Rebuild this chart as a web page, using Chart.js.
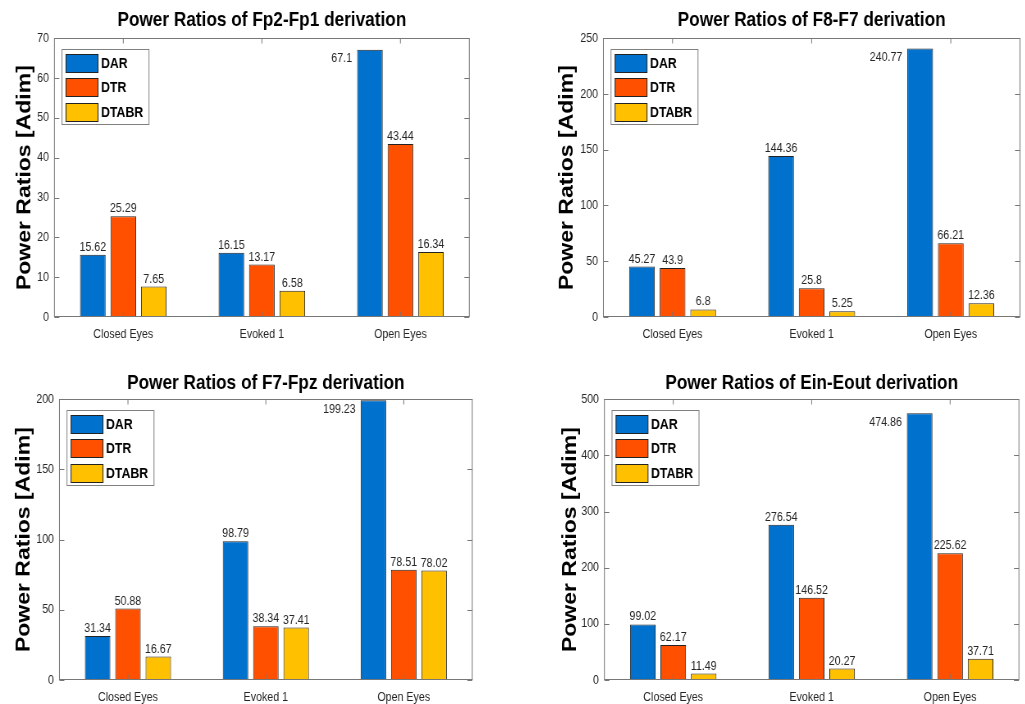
<!DOCTYPE html>
<html>
<head>
<meta charset="utf-8">
<script src="https://cdn.jsdelivr.net/npm/chart.js@4"></script>
<style>
html, body { margin: 0; padding: 0; background: #fff; }
#wrap { position: relative; width: 1025px; height: 704px; overflow: hidden; }
/* the source figure is squeezed horizontally, so each chart is drawn wider and scaled down */
.panel { position: absolute; height: 352px; transform: scaleX(0.82); transform-origin: 0 0; }
.left { width: 624px; }
.right { width: 626px; }
</style>
</head>
<body>
<div id="wrap">
  <div class="panel left" style="left:0;top:0"><canvas id="chartFp2Fp1"></canvas></div>
  <div class="panel right" style="left:512px;top:0"><canvas id="chartF8F7"></canvas></div>
  <div class="panel left" style="left:0;top:352px"><canvas id="chartF7Fpz"></canvas></div>
  <div class="panel right" style="left:512px;top:352px"><canvas id="chartEinEout"></canvas></div>
</div>
<script>
const categories = ['Closed Eyes', 'Evoked 1', 'Open Eyes'];
const seriesNames = ['DAR', 'DTR', 'DTABR'];
const seriesColors = ['#0072CE', '#FF5000', '#FFC000'];

const fp2fp1Dar = [15.62, 16.15, 67.1];
const fp2fp1Dtr = [25.29, 13.17, 43.44];
const fp2fp1Dtabr = [7.65, 6.58, 16.34];

const f8f7Dar = [45.27, 144.36, 240.77];
const f8f7Dtr = [43.9, 25.8, 66.21];
const f8f7Dtabr = [6.8, 5.25, 12.36];

const f7fpzDar = [31.34, 98.79, 199.23];
const f7fpzDtr = [50.88, 38.34, 78.51];
const f7fpzDtabr = [16.67, 37.41, 78.02];

const eineoutDar = [99.02, 276.54, 474.86];
const eineoutDtr = [62.17, 146.52, 225.62];
const eineoutDtabr = [11.49, 20.27, 37.71];

const SQ = 0.82; // horizontal squeeze applied by css
const sans = "'Liberation Sans', Arial, sans-serif";
Chart.defaults.font.family = sans;
Chart.defaults.color = '#262626';

// matlab look: box, inward ticks, value labels and legend inside the axes
const matlabAxes = {
    id: 'matlabAxes',
    afterDatasetsDraw(chart) {
        const {ctx, chartArea: a, scales: {x, y}} = chart;
        ctx.save();
        ctx.font = `13px ${sans}`;
        ctx.fillStyle = '#262626';
        chart.data.datasets.forEach((ds, i) => {
            chart.getDatasetMeta(i).data.forEach((bar, j) => {
                const v = ds.data[j];
                if (v / y.max > 0.9) {
                    ctx.textAlign = 'right';
                    ctx.textBaseline = 'middle';
                    ctx.fillText(String(v), bar.x - bar.width / 2 - 5 / SQ, bar.y + 9);
                } else {
                    ctx.textAlign = 'center';
                    ctx.textBaseline = 'bottom';
                    ctx.fillText(String(v), bar.x, bar.y - 1);
                }
            });
        });

        const L = a.left + 0.5, R = a.right - 0.5;
        const T = Math.round(a.top) + 0.5, B = Math.round(a.bottom) - 0.5;
        ctx.strokeStyle = '#777';
        ctx.lineWidth = 1;
        ctx.strokeRect(L, T, R - L, B - T);
        ctx.beginPath();
        y.ticks.forEach(t => {
            const py = Math.round(y.getPixelForValue(t.value)) + 0.5;
            ctx.moveTo(L, py); ctx.lineTo(L + 6, py);
            ctx.moveTo(R, py); ctx.lineTo(R - 6, py);
        });
        x.ticks.forEach((t, k) => {
            const px = x.getPixelForTick(k);
            ctx.moveTo(px, B); ctx.lineTo(px, B - 5);
            ctx.moveTo(px, T); ctx.lineTo(px, T + 5);
        });
        ctx.stroke();

        // legend box
        const lx = a.left + 8 / SQ, ly = Math.round(a.top) + 11.5;
        const bw = 87 / SQ;
        ctx.fillStyle = '#fff';
        ctx.fillRect(lx, ly, bw, 75);
        ctx.strokeStyle = '#808080';
        ctx.strokeRect(lx, ly, bw, 75);
        ctx.font = `bold 15px ${sans}`;
        ctx.textAlign = 'left';
        ctx.textBaseline = 'middle';
        chart.data.datasets.forEach((ds, i) => {
            const sy = Math.round(ly + 4 + i * 24.5) + 0.5;
            ctx.fillStyle = ds.backgroundColor;
            ctx.fillRect(lx + 4 / SQ, sy, 32 / SQ, 18);
            ctx.strokeStyle = '#222';
            ctx.strokeRect(lx + 4 / SQ, sy, 32 / SQ, 18);
            ctx.fillStyle = '#000';
            ctx.fillText(ds.label, lx + 39 / SQ, sy + 9.5);
        });
        ctx.restore();
    }
};

const createPanel = (ctxId, title, dar, dtr, dtabr, yMax, yStep, box) => {
    const values = [dar, dtr, dtabr];
    return new Chart(document.getElementById(ctxId), {
        type: 'bar',
        data: {
            labels: categories,
            datasets: seriesNames.map((name, i) => ({
                label: name,
                data: values[i],
                backgroundColor: seriesColors[i],
                borderColor: '#222',
                borderWidth: 1,
                categoryPercentage: 0.66,
                barPercentage: 0.84,
            }))
        },
        options: {
            responsive: true,
            maintainAspectRatio: false,
            animation: false,
            layout: {
                padding: {left: box.padL / SQ, right: box.padR / SQ, top: box.padT, bottom: 0}
            },
            scales: {
                x: {
                    offset: true,
                    grid: {display: false, drawTicks: false},
                    border: {display: false},
                    ticks: {font: {size: 13}, padding: 10, color: '#262626'},
                    afterFit: (scale) => { scale.height = box.xHeight; }
                },
                y: {
                    min: 0,
                    max: yMax,
                    grid: {display: false, drawTicks: false},
                    border: {display: false},
                    ticks: {stepSize: yStep, font: {size: 13}, padding: 5 / SQ, color: '#262626'},
                    title: {
                        display: true,
                        text: 'Power Ratios [Adim]',
                        color: '#000',
                        padding: 0,
                        font: {size: 23, weight: 'bold', lineHeight: 1}
                    },
                    afterFit: (scale) => { scale.width = box.yWidth / SQ; }
                }
            },
            plugins: {
                legend: {display: false},
                tooltip: {enabled: false},
                title: {
                    display: true,
                    text: title,
                    color: '#000',
                    fullSize: false,
                    font: {size: 21, weight: 'bold', lineHeight: 1.2},
                    padding: {top: 0, bottom: box.titleGap}
                }
            }
        },
        plugins: [matlabAxes]
    });
};

createPanel('chartFp2Fp1', 'Power Ratios of Fp2-Fp1 derivation', fp2fp1Dar, fp2fp1Dtr, fp2fp1Dtabr, 70, 10,
    {padL: 16, padR: 42, padT: 8, titleGap: 5, yWidth: 38, xHeight: 35});
createPanel('chartF8F7', 'Power Ratios of F8-F7 derivation', f8f7Dar, f8f7Dtr, f8f7Dtabr, 250, 50,
    {padL: 46, padR: 5, padT: 8, titleGap: 5, yWidth: 45, xHeight: 35});
createPanel('chartF7Fpz', 'Power Ratios of F7-Fpz derivation', f7fpzDar, f7fpzDtr, f7fpzDtabr, 200, 50,
    {padL: 15, padR: 39, padT: 19, titleGap: 3, yWidth: 44, xHeight: 24});
createPanel('chartEinEout', 'Power Ratios of Ein-Eout derivation', eineoutDar, eineoutDtr, eineoutDtabr, 500, 100,
    {padL: 49, padR: 6, padT: 19, titleGap: 3, yWidth: 43, xHeight: 24});
</script>
</body>
</html>
